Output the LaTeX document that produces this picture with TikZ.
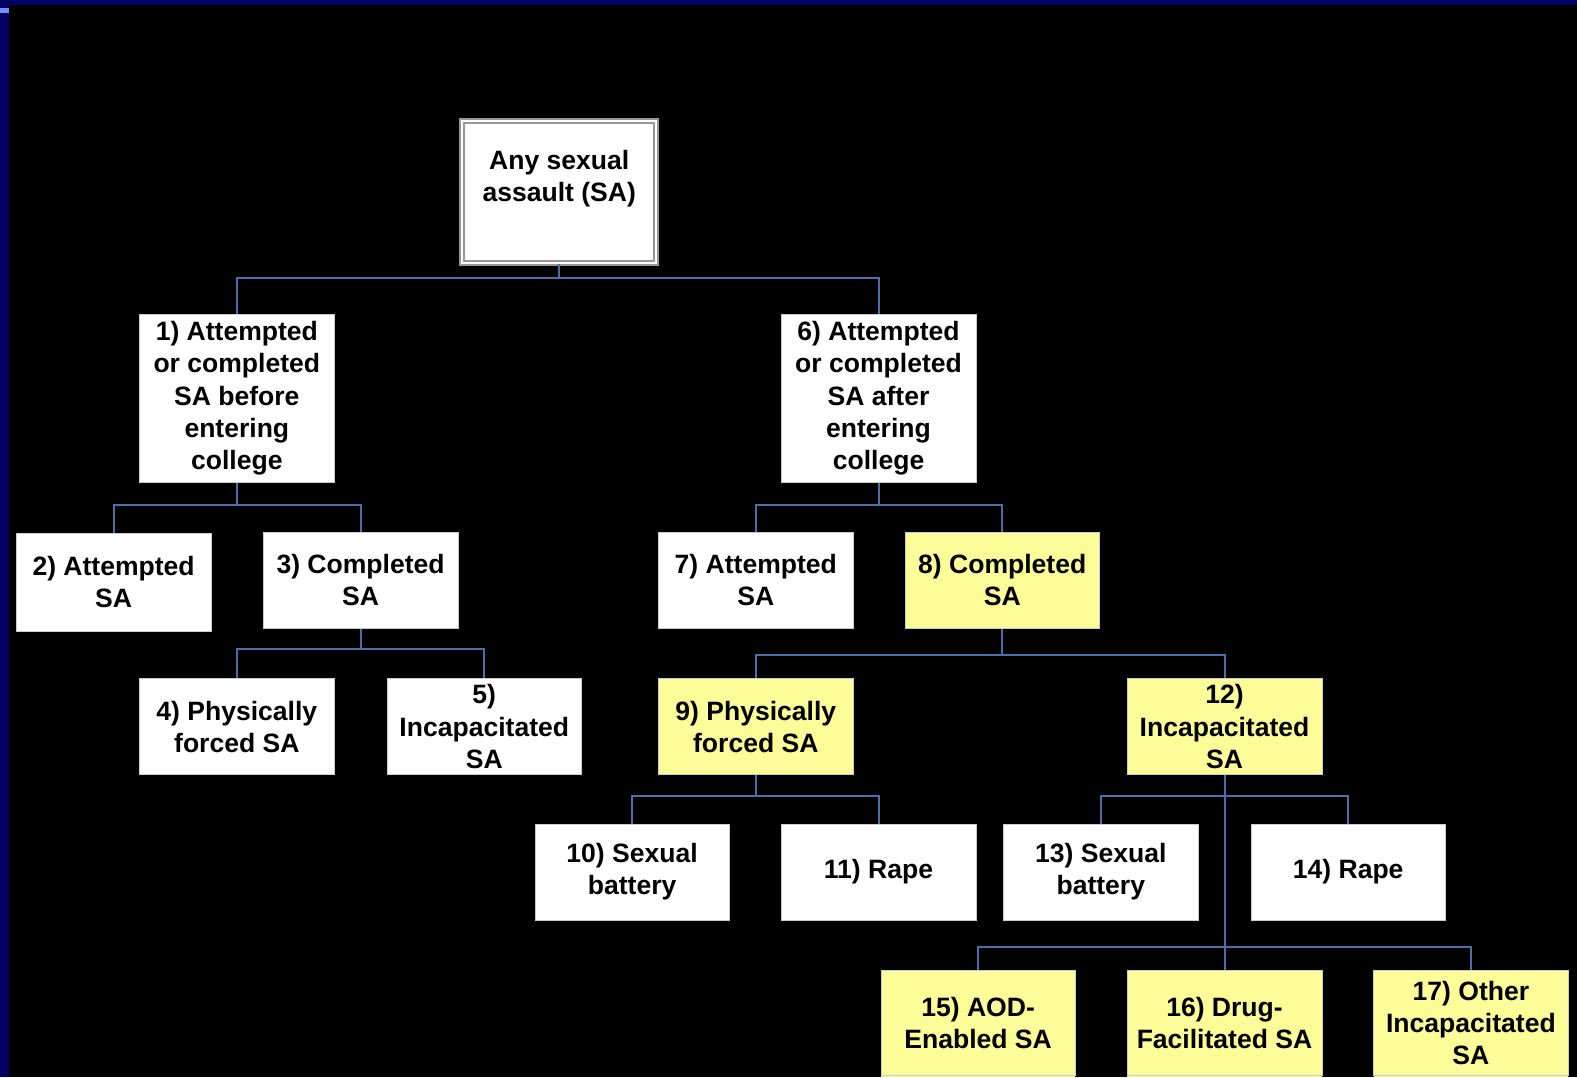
\documentclass[tikz,border=0pt]{standalone}
\usepackage{fontspec}
\setmainfont{Liberation Sans}
\definecolor{navyband}{RGB}{2,2,100}
\definecolor{navytick}{RGB}{112,144,240}
\definecolor{linkblue}{RGB}{78,110,170}
\definecolor{hlyellow}{RGB}{252,252,153}
\definecolor{boxedge}{RGB}{150,150,150}

\begin{document}
\begin{tikzpicture}[x=0.010057cm,y=-0.010057cm,
  box/.style={draw=boxedge!50,line width=0.005cm,fill=white,minimum width=1.945cm,minimum height=0.96cm,
    inner sep=0pt,align=center,font=\fontsize{7.55pt}{9.15pt}\selectfont\bfseries},
  hl/.style={box,fill=hlyellow},
  link/.style={draw=linkblue,line width=0.02cm}]
% background and frame
\fill[black] (0,0) rectangle (1568,1071);
\fill[navyband] (0,0) rectangle (1568,5);
\fill[navyband] (0,0) rectangle (9,1071);
\fill[navytick] (0,8) rectangle (9,13);
\coordinate (bottom) at (0,1071);

% boxes
\node[box,minimum width=1.94cm,minimum height=1.42cm,draw=boxedge,line width=0.02cm,double=white,double distance=0.02cm] (root) at (556,191) {Any sexual\\assault (SA)\\~};
\node[box,minimum height=1.68cm] (b1) at (235.5,396) {1) Attempted\\or completed\\SA before\\entering\\college};
\node[box,minimum height=1.68cm] (b6) at (873.5,396) {6) Attempted\\or completed\\SA after\\entering\\college};
\node[box,minimum height=0.98cm] (b2) at (113,578.5) {2) Attempted\\SA};
\node[box] (b3) at (358.5,577) {3) Completed\\SA};
\node[box] (b7) at (751.5,577) {7) Attempted\\SA};
\node[hl] (b8) at (996.5,577) {8) Completed\\SA};
\node[box] (b4) at (235.5,722.5) {4) Physically\\forced SA};
\node[box] (b5) at (481.5,722.5) {5)\\Incapacitated\\SA};
\node[hl] (b9) at (751.5,722.5) {9) Physically\\forced SA};
\node[hl] (b12) at (1217.5,722.5) {12)\\Incapacitated\\SA};
\node[box] (b10) at (628.5,867) {10) Sexual\\battery};
\node[box] (b11) at (873.5,867) {11) Rape};
\node[box] (b13) at (1094.5,867) {13) Sexual\\battery};
\node[box] (b14) at (1340.5,867) {14) Rape};
\node[hl,minimum height=1.05cm] (b15) at (972.5,1017) {15) AOD-\\Enabled SA};
\node[hl,minimum height=1.05cm] (b16) at (1217.5,1017) {16) Drug-\\Facilitated SA};
\node[hl,minimum height=1.05cm] (b17) at (1462.5,1017) {17) Other\\Incapacitated\\SA};
% bottom row runs off the page
\foreach \n in {b15,b16,b17}
  \fill[hlyellow] ([xshift=0.0025cm]\n.south west) rectangle ([xshift=-0.0025cm]\n.south east |- bottom);

% connectors
\draw[link] (root.south) -- ++(0,14) -| (b1.north);
\draw[link] (root.south) -- ++(0,14) -| (b6.north);
\draw[link] (b1.south) -- ++(0,22) -| (b2.north);
\draw[link] (b1.south) -- ++(0,22) -| (b3.north);
\draw[link] (b3.south) -- ++(0,20) -| (b4.north);
\draw[link] (b3.south) -- ++(0,20) -| (b5.north);
\draw[link] (b6.south) -- ++(0,22) -| (b7.north);
\draw[link] (b6.south) -- ++(0,22) -| (b8.north);
\draw[link] (b8.south) -- ++(0,26) -| (b9.north);
\draw[link] (b8.south) -- ++(0,26) -| (b12.north);
\draw[link] (b9.south) -- ++(0,21) -| (b10.north);
\draw[link] (b9.south) -- ++(0,21) -| (b11.north);
\draw[link] (b12.south) -- ++(0,21) -| (b13.north);
\draw[link] (b12.south) -- ++(0,21) -| (b14.north);
\draw[link] (b12.south) -- ++(0,171) -| (b15.north);
\draw[link] (b12.south) -- (b16.north);
\draw[link] (b12.south) -- ++(0,171) -| (b17.north);

\pgfresetboundingbox
\useasboundingbox (0,0) rectangle (1568,1071);
\end{tikzpicture}
\end{document}
